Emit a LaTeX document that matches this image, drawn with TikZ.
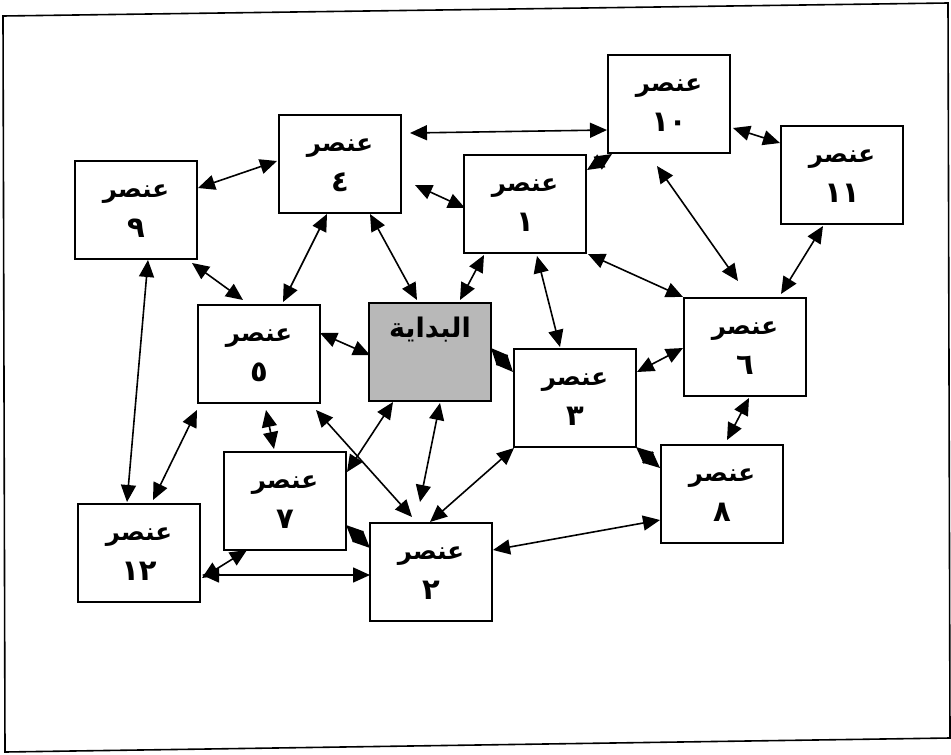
\documentclass[tikz,border=0pt]{standalone}
\usepackage{fontspec}
\usetikzlibrary{arrows.meta,calc}
\TeXXeTstate=1
\newfontfamily\arabicfont[Script=Arabic]{DejaVu Sans}
\definecolor{startgray}{RGB}{184,184,184}
\tikzset{
  box/.style={draw, line width=1.8pt, minimum width=122pt, minimum height=98pt,
              inner sep=0pt, fill=white},
  startbox/.style={box, fill=startgray},
  wordtxt/.style={inner sep=0pt, font=\arabicfont\bfseries\fontsize{24.5}{30}\selectfont},
  digittxt/.style={inner sep=0pt, font=\arabicfont\bfseries\fontsize{29}{32}\selectfont},
  link/.style={<->, line width=1.6pt, >={Triangle[length=17pt,width=15pt]}},
  frame/.style={line width=1.6pt, line join=miter},
}
% one element box: name, centre, number
\newcommand\elembox[3]{%
  \node[box] (#1) at (#2) {};
  \node[wordtxt] (#1w) at ($(#1)+(0,-16)$) {\beginR عنصر\endR};
  \node[digittxt] (#1d) at ($(#1)+(0,18)$) {#3};
}
\begin{document}
\begin{tikzpicture}[x=1pt, y=-1pt]
  \useasboundingbox (0,0) rectangle (951,755);
  % outer frame
  \draw[frame] (3,16) -- (948,3) -- (950,738) -- (5,752) -- cycle;

  % elements
  \elembox{b10}{669,104}{١٠}
  \elembox{b11}{842,175}{١١}
  \elembox{b4}{340,164}{٤}
  \elembox{b1}{525,204}{١}
  \elembox{b9}{136,210}{٩}
  \elembox{b5}{259,354}{٥}
  \node[startbox] (bs) at (430,352) {};
  \node[wordtxt, font=\arabicfont\bfseries\fontsize{27}{30}\selectfont] (bstxt) at ($(bs)+(0,-22)$) {\beginR البداية\endR};
  \elembox{b6}{745,347}{٦}
  \elembox{b3}{575,398}{٣}
  \elembox{b8}{722,494}{٨}
  \elembox{b7}{285,501}{٧}
  \elembox{b12}{139,553}{١٢}
  \elembox{b2}{431,572}{٢}

  % connections
  \draw[link] ($(b9)+(62,-22)$)  -- ($(b4)+(-63,-3)$);
  \draw[link] ($(b4)+(70,-31)$)  -- ($(b10)+(-62,26)$);
  \draw[link] ($(b10)+(-57,50)$) -- ($(b1)+(62,-34)$);
  \draw[link] ($(b10)+(64,24)$)  -- ($(b11)+(-62,-32)$);
  \draw[link] ($(b10)+(-12,62)$) -- ($(b6)+(-7,-66)$);
  \draw[link] ($(b11)+(-19,51)$) -- ($(b6)+(36,-53)$);
  \draw[link] ($(b4)+(75,21)$)   -- ($(b1)+(-60,4)$);
  \draw[link] ($(b4)+(-13,50)$)  -- ($(b5)+(24,-52)$);
  \draw[link] ($(b4)+(30,50)$)   -- ($(bs)+(-13,-52)$);
  \draw[link] ($(b9)+(56,53)$)   -- ($(b5)+(-16,-54)$);
  \draw[link] ($(b1)+(-41,51)$)  -- ($(bs)+(30,-52)$);
  \draw[link] ($(b1)+(12,52)$)   -- ($(b3)+(-15,-51)$);
  \draw[link] ($(b1)+(63,50)$)   -- ($(b6)+(-62,-50)$);
  \draw[link] ($(b5)+(61,-21)$)  -- ($(bs)+(-60,3)$);
  \draw[link] ($(bs)+(61,-4)$)   -- ($(b3)+(-62,-26)$);
  \draw[link] ($(b3)+(62,-26)$)  -- ($(b6)+(-62,1)$);
  \draw[link] ($(b6)+(4,51)$)    -- ($(b8)+(5,-54)$);
  \draw[link] ($(b3)+(61,49)$)   -- ($(b8)+(-62,-26)$);
  \draw[link] ($(b2)+(62,-22)$)  -- ($(b8)+(-62,26)$);
  \draw[link] ($(b3)+(-61,50)$)  -- ($(b2)+(-1,-50)$);
  \draw[link] ($(b5)+(7,56)$)    -- ($(b7)+(-11,-52)$);
  \draw[link] ($(b5)+(57,56)$)   -- ($(b2)+(-19,-55)$);
  \draw[link] ($(b7)+(62,-29)$)  -- ($(bs)+(-37,50)$);
  \draw[link] ($(bs)+(10,51)$)   -- ($(b2)+(-11,-70)$);
  \draw[link] ($(b9)+(12,50)$)   -- ($(b12)+(-12,-51)$);
  \draw[link] ($(b5)+(-62,56)$)  -- ($(b12)+(14,-53)$);
  \draw[link] ($(b7)+(-38,49)$)  -- ($(b12)+(63,25)$);
  \draw[link] ($(b12)+(63,22)$)  -- ($(b2)+(-61,3)$);
  \draw[link] ($(b7)+(61,24)$)   -- ($(b2)+(-61,-24)$);
\end{tikzpicture}
\end{document}
